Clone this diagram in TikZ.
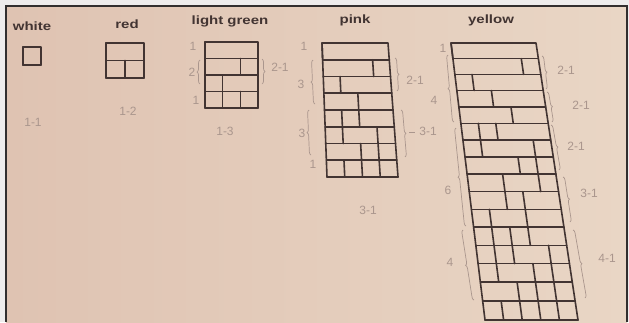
\documentclass[tikz,border=0pt]{standalone}
\usepackage{fontspec}
\setmainfont{Liberation Sans}
\usetikzlibrary{calc,decorations.pathreplacing}
\definecolor{paperL}{RGB}{223,195,178}
\definecolor{paperR}{RGB}{233,214,197}
\definecolor{ink}{RGB}{66,52,50}
\definecolor{pencil}{RGB}{170,150,141}
\definecolor{frameC}{RGB}{50,46,46}
\definecolor{outside}{RGB}{238,236,236}
\newcommand\brickwall[3]{%
  \draw[gridline] (TL) -- (TR) -- (BR) -- (BL) -- cycle;
  \foreach \cuts [count=\ri] in {#3} {%
    \pgfmathsetmacro\va{(\ri-1)/#2-\kk*((\ri-1)/#2)*(1-(\ri-1)/#2)}%
    \pgfmathsetmacro\vb{\ri/#2-\kk*(\ri/#2)*(1-\ri/#2)}%
    \coordinate (La) at ($(TL)!\va!(BL)$);
    \coordinate (Ra) at ($(TR)!\va!(BR)$);
    \coordinate (Lb) at ($(TL)!\vb!(BL)$);
    \coordinate (Rb) at ($(TR)!\vb!(BR)$);
    \draw[gridline] (Lb) -- (Rb);
    \foreach \cc in \cuts {%
      \pgfmathsetmacro\uu{\cc/#1}%
      \draw[gridline] ($(La)!\uu!(Ra)$) -- ($(Lb)!\uu!(Rb)$);
    }%
  }%
}
\begin{document}
\begin{tikzpicture}[x=1pt,y=-1pt,
  gridline/.style={draw=ink,line width=1.6pt,line join=round,line cap=round},
  lab/.style={inner sep=0pt,text=ink,font=\bfseries\fontsize{12}{12}\selectfont},
  hand/.style={inner sep=0pt,text=pencil,font=\fontsize{12}{12}\selectfont},
  pbrace/.style={draw=pencil,line width=0.7pt,decorate,decoration={brace,amplitude=3pt}}]
\useasboundingbox (0,0) rectangle (629,322);
\fill[outside] (0,0) rectangle (629,322);
\shade[left color=paperL,right color=paperR] (6,6) rectangle (627,322);
\draw[frameC,line width=2pt] (6,322) -- (6,6) -- (627,6) -- (627,322);

% labels
\node[lab] (lwhite) at (32,26) {\scalebox{1.25}[1]{white}};
\node[lab] (lred) at (127,24) {\scalebox{1.25}[1]{red}};
\node[lab] (lgreen) at (230,21) {\scalebox{1.25}[1]{light green}};
\node[lab] (lpink) at (355,20) {\scalebox{1.25}[1]{pink}};
\node[lab] (lyellow) at (491,20) {\scalebox{1.25}[1]{yellow}};

% white
\def\kk{0}
\coordinate (TL) at (23,47); \coordinate (TR) at (41,47);
\coordinate (BL) at (23,65); \coordinate (BR) at (41,65);
\brickwall{1}{1}{{0}}
% red
\coordinate (TL) at (106,43); \coordinate (TR) at (144,43);
\coordinate (BL) at (106,78); \coordinate (BR) at (144,78);
\brickwall{2}{2}{{0},{1}}
% light green
\coordinate (TL) at (205,42); \coordinate (TR) at (258,42);
\coordinate (BL) at (205,108); \coordinate (BR) at (258,108);
\brickwall{3}{4}{{0},{2},{1},{1,2}}
% pink
\coordinate (TL) at (322,43); \coordinate (TR) at (388,43);
\coordinate (BL) at (327,177); \coordinate (BR) at (398,177);
\brickwall{4}{8}{{0},{3},{1},{2},{1,2},{1,3},{2,3},{1,2,3}}
% yellow
\def\kk{0.105}
\coordinate (TL) at (451,43); \coordinate (TR) at (536,43);
\coordinate (BL) at (485,320); \coordinate (BR) at (578,320);
\brickwall{5}{16}{{0},{4},{1},{2},{3},{1,2},{1,4},{3,4},{2,4},{2,3},{1,3},{1,2,3},{1,2,4},{1,3,4},{2,3,4},{1,2,3,4}}

% pencil notes
\node[hand] (n11) at (33,122) {1-1};
\node[hand] (n12) at (128,111) {1-2};
\node[hand] (n13) at (225,131) {1-3};
\node[hand] (n31) at (368,210) {3-1};
% light green
\node[hand] (g1) at (193,46) {1};
\node[hand] (g2) at (192,72) {2};
\node[hand] (g3) at (196,100) {1};
\draw[pbrace] (200,84) -- (200,60);
\draw[pbrace] (262,59) -- (262,84);
\node[hand] (g21) at (280,67) {2-1};
% pink
\node[hand] (p1) at (304,46) {1};
\node[hand] (p2) at (301,84) {3};
\node[hand] (p3) at (302,133) {3};
\node[hand] (p4) at (313,164) {1};
\draw[pbrace] (315,104) -- (313,60);
\draw[pbrace] (311,155) -- (309,110);
\draw[pbrace] (395,58) -- (397,91);
\node[hand] (p21) at (415,80) {2-1};
\draw[pbrace] (401,110) -- (405,157);
\draw[pencil,line width=0.7pt] (409,132) -- (415,132);
\node[hand] (p31) at (428,131) {3-1};
% yellow
\node[hand] (y1) at (443,48) {1};
\node[hand] (y4) at (434,100) {4};
\node[hand] (y6) at (448,190) {6};
\node[hand] (y4b) at (450,262) {4};
\draw[pbrace] (454,122) -- (448,55);
\draw[pbrace] (466,226) -- (456,128);
\draw[pbrace] (474,300) -- (463,230);
\draw[pbrace] (542,56) -- (546,89);
\node[hand] (y21a) at (566,70) {2-1};
\draw[pbrace] (547,92) -- (552,122);
\node[hand] (y21b) at (581,105) {2-1};
\draw[pbrace] (551,125) -- (559,170);
\node[hand] (y21c) at (576,146) {2-1};
\draw[pbrace] (563,177) -- (570,222);
\node[hand] (y31) at (589,193) {3-1};
\draw[pbrace] (573,230) -- (585,298);
\node[hand] (y41) at (607,258) {4-1};
\end{tikzpicture}
\end{document}
